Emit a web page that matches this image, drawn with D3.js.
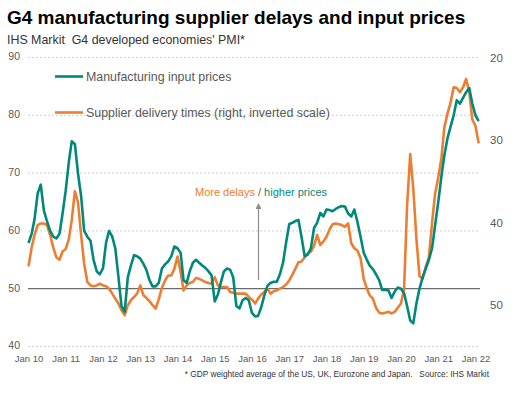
<!DOCTYPE html>
<html lang="en">
<head>
  <meta charset="utf-8">
  <title>G4 supplier delays and input prices</title>
  <script type="text/javascript" src="https://d3js.org/d3.v7.min.js"></script>
  <style type="text/css">
    body { margin: 0; background: #fff; }
    text { font-family: "Liberation Sans", Arial, sans-serif; }
    .grid { stroke: #d0d0d0; stroke-width: 1; stroke-dasharray: 2,2; }
    .tick text { fill: #595959; }
    .pricesLine { fill: none; stroke: #00897b; stroke-width: 2.6; stroke-linejoin: round; }
    .deliveryLine { fill: none; stroke: #ed7d31; stroke-width: 2.6; stroke-linejoin: round; }
  </style>
</head>
<body>
  <script type="text/javascript">
  var w = 517;
  var h = 396;

  // first month of both series, one value per month after that
  var startMonth = new Date(2010, 0, 1);

  // Manufacturing input prices (left axis)
  var inputPrices = [
    57.9, 59.5, 62, 66.5, 68, 63.5, 61.7, 60, 59, 58.7, 59.5, 63,
    67, 72, 75.5, 75, 70, 66, 60, 59, 58.3, 55, 53, 52.5,
    53.5, 58, 60, 59, 57, 52, 47, 46, 52, 54, 55.8, 55.6,
    55.2, 54.3, 53.3, 51.5, 50.4, 50.4, 51, 53.5, 54.2, 54.7, 55.6, 57.3,
    57, 56.2, 51.5, 51, 53, 54.5, 55, 54.5, 54, 53.6, 53, 52.3,
    47.8, 49, 51, 53, 53.5, 53.3, 52, 47, 46.6, 48, 48.4, 48,
    45.8, 45.2, 45.3, 46.8, 48.8, 50.5, 51, 51.2, 51.2, 52.5, 54.5, 58,
    61.2, 61.4, 61.7, 61.9, 59, 55.6, 55.9, 57, 60.5, 61.4, 63.1, 62.5,
    63.7, 63.6, 63.4, 63.8, 64.1, 64.3, 64.2, 63, 62.5, 63.7, 61.5, 59,
    56.2, 55, 54, 53.4, 52.5, 51.5, 49.8, 49.8, 49.7, 48.4, 49.5, 50.2,
    50, 49.2, 47, 44.5, 44, 47.5, 50, 52, 53.5, 55, 57, 61,
    65, 69.5, 73, 76, 78, 80, 82.6, 82, 83, 84, 84.7, 82,
    80, 79
  ];

  // Supplier delivery times (right axis, inverted)
  var deliveryTimes = [
    45.3, 43, 41.5, 40.3, 40.1, 40.1, 40.3, 41.5, 43, 44.2, 44.5, 43.5,
    43.2, 42, 39.7, 36.2, 37.5, 41.5, 45, 47.2, 47.6, 47.7, 47.6, 47.4,
    47.6, 47.7, 48, 48.6, 49.2, 49.8, 50.6, 51.2, 50, 49.4, 49, 48.6,
    47.6, 48.8, 49.1, 49.5, 50, 50.4, 49.3, 47.9, 47, 46.4, 46.4, 45.6,
    44.1, 46, 48.2, 47.6, 47.3, 47.2, 46.7, 46.8, 47, 47.2, 47.3, 47.4,
    46.6, 47.6, 47.8, 47.8, 47.8, 48.4, 48.5, 48.6, 48.6, 48.6, 48.6, 49,
    49.3, 49.8, 49.2, 48.7, 48.4, 48, 48.6, 48.3, 48.2, 48, 47.8, 47.5,
    47, 46.3, 45.6, 44.8, 44.7, 44.2, 43.7, 43.5, 42.8, 41.5, 42.7, 42.3,
    41.7, 40.8, 40.2, 40.1, 40.2, 40.3, 40.5, 40.1, 42.5, 43.1, 43.4, 44.3,
    46.8, 48, 48.8, 49.2, 50.3, 50.9, 51, 50.9, 50.8, 51, 50.8, 50.3,
    49.8, 48, 38, 31.7, 35.9, 42, 46.5, 46.8, 45.3, 44.2, 40, 36.5,
    34.5, 32.2, 28.5, 26.8, 25.5, 23.6, 23.7, 24.2, 23.6, 22.6, 24.2, 27.5,
    28.3, 30.4
  ];

  var leftTicks = [40, 50, 60, 70, 80, 90];
  var rightTicks = [20, 30, 40, 50];
  var yearTicks = [2010, 2011, 2012, 2013, 2014, 2015, 2016, 2017, 2018, 2019, 2020, 2021, 2022];

  var svg = d3.select("body").append("svg")
    .attr("width", w)
    .attr("height", h);

  var xScale = d3.scaleTime()
    .domain([new Date(2010, 0, 1), new Date(2022, 0, 1)])
    .range([28.5, 475.5]);

  var yLeft = d3.scaleLinear()
    .domain([40, 90])
    .range([346.5, 57.5]);

  // right axis runs upside down: 20 at the top
  var yRight = d3.scaleLinear()
    .domain([20, 55])
    .range([57.5, 346.5]);

  var monthDate = function(i) { return d3.timeMonth.offset(startMonth, i); };

  // titles
  svg.append("text")
    .attr("x", 7).attr("y", 24)
    .style("font-size", "19px").style("font-weight", "bold").style("fill", "#000")
    .text("G4 manufacturing supplier delays and input prices");

  svg.append("text")
    .attr("x", 7).attr("y", 44)
    .style("font-size", "12.4px").style("fill", "#333").style("white-space", "pre")
    .text("IHS Markit  G4 developed economies' PMI*");

  // gridlines
  svg.append("g")
    .selectAll("line")
    .data(leftTicks.filter(function(t) { return t != 50; }))
    .enter().append("line")
    .attr("class", "grid")
    .attr("x1", 28).attr("x2", 480)
    .attr("y1", function(d) { return yLeft(d); })
    .attr("y2", function(d) { return yLeft(d); });

  // left axis labels
  var leftAxis = d3.axisLeft(yLeft).tickValues(leftTicks).tickSize(0).tickPadding(0);
  var gl = svg.append("g").attr("transform", "translate(20,-1)").call(leftAxis);
  gl.select(".domain").remove();
  gl.selectAll("text").style("font-size", "10.5px").style("font-family", "Liberation Sans, Arial, sans-serif");

  var rightAxis = d3.axisRight(yRight).tickValues(rightTicks).tickSize(0).tickPadding(0);
  var gr = svg.append("g").attr("transform", "translate(490,0)").call(rightAxis);
  gr.select(".domain").remove();
  gr.selectAll("text").style("font-size", "11.5px").style("font-family", "Liberation Sans, Arial, sans-serif");

  var xAxis = d3.axisBottom(xScale)
    .tickValues(yearTicks.map(function(y) { return new Date(y, 0, 1); }))
    .tickFormat(d3.timeFormat("Jan %y"))
    .tickSize(0).tickPadding(0);
  var gx = svg.append("g").attr("transform", "translate(0,355)").call(xAxis);
  gx.select(".domain").remove();
  gx.selectAll("text").style("font-size", "9.5px").style("font-family", "Liberation Sans, Arial, sans-serif");

  // the 50 line
  svg.append("line")
    .attr("x1", 28).attr("x2", 480)
    .attr("y1", yLeft(50)).attr("y2", yLeft(50))
    .style("stroke", "#6b6b6b").style("stroke-width", 1.2);

  // arrow
  svg.append("defs").append("marker")
    .attr("id", "head")
    .attr("viewBox", "0 0 10 10")
    .attr("refX", 5).attr("refY", 5)
    .attr("markerWidth", 5).attr("markerHeight", 5)
    .attr("orient", "auto")
    .append("path").attr("d", "M0,0 L10,5 L0,10 z").style("fill", "#8c8c8c");

  svg.append("line")
    .attr("x1", 258.5).attr("x2", 258.5)
    .attr("y1", yLeft(51.5)).attr("y2", yLeft(64.3))
    .style("stroke", "#8c8c8c").style("stroke-width", 1.2)
    .attr("marker-end", "url(#head)");

  var note = svg.append("text")
    .attr("x", 195).attr("y", 196)
    .style("font-size", "11px").style("white-space", "pre");
  note.append("tspan").style("fill", "#ed7d31").text("More delays");
  note.append("tspan").style("fill", "#595959").text(" / ");
  note.append("tspan").style("fill", "#00897b").text("higher prices");

  // lines
  var priceLine = d3.line()
    .x(function(d, i) { return xScale(monthDate(i)); })
    .y(function(d) { return yLeft(d); });

  var deliveryLine = d3.line()
    .x(function(d, i) { return xScale(monthDate(i)); })
    .y(function(d) { return yRight(d); });

  svg.append("path").datum(deliveryTimes).attr("class", "deliveryLine").attr("d", deliveryLine);
  svg.append("path").datum(inputPrices).attr("class", "pricesLine").attr("d", priceLine);

  // legend
  var legend = [
    { label: "Manufacturing input prices", cls: "pricesLine", y: 76.5 },
    { label: "Supplier delivery times (right, inverted scale)", cls: "deliveryLine", y: 112.5 }
  ];
  var lg = svg.append("g").selectAll("g").data(legend).enter().append("g");
  lg.append("line")
    .attr("class", function(d) { return d.cls; })
    .attr("x1", 55).attr("x2", 83)
    .attr("y1", function(d) { return d.y; }).attr("y2", function(d) { return d.y; });
  lg.append("text")
    .attr("x", 86).attr("y", function(d) { return d.y + 4.5; })
    .style("font-size", "12.4px").style("fill", "#595959")
    .text(function(d) { return d.label; });

  svg.append("text")
    .attr("x", 489).attr("y", 377)
    .attr("text-anchor", "end")
    .style("font-size", "8.3px").style("fill", "#333").style("white-space", "pre")
    .text("* GDP weighted average of the US, UK, Eurozone and Japan.   Source: IHS Markit");
  </script>
</body>
</html>
